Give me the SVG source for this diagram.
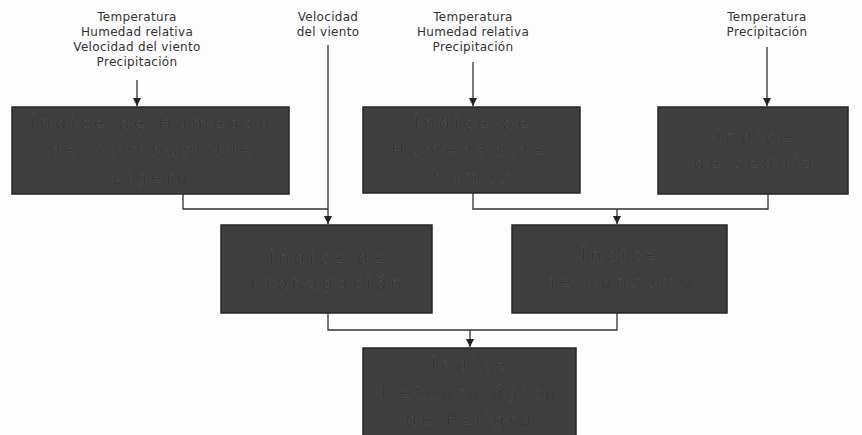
<svg xmlns="http://www.w3.org/2000/svg" width="862" height="435" viewBox="0 0 862 435">
<style>
.lbl{font-family:"DejaVu Sans","Liberation Sans",sans-serif;font-size:12px;letter-spacing:0.3px;fill:#333;text-anchor:middle}
.box{fill:#3f3f3f;stroke:#262626;stroke-width:1.5}
.bt{font-family:"DejaVu Sans","Liberation Sans",sans-serif;font-size:18px;letter-spacing:4px;fill:#2c2c2c;stroke:#505050;stroke-width:0.6;text-anchor:middle}
.ln{fill:none;stroke:#333;stroke-width:1.3}
</style>
<defs>
<marker id="ah" viewBox="0 0 10 10" refX="10" refY="5" markerWidth="8" markerHeight="8" markerUnits="userSpaceOnUse" orient="auto">
<path d="M0,0 L10,5 L0,10 z" fill="#222"/>
</marker>
</defs>
<rect width="862" height="435" fill="#fdfdfd"/>
<g id="labels">
<text class="lbl" x="137" y="21">Temperatura</text>
<text class="lbl" x="137" y="36">Humedad relativa</text>
<text class="lbl" x="137" y="51">Velocidad del viento</text>
<text class="lbl" x="137" y="66">Precipitación</text>
<text class="lbl" x="328" y="21">Velocidad</text>
<text class="lbl" x="328" y="36">del viento</text>
<text class="lbl" x="473" y="21">Temperatura</text>
<text class="lbl" x="473" y="36">Humedad relativa</text>
<text class="lbl" x="473" y="51">Precipitación</text>
<text class="lbl" x="767" y="21">Temperatura</text>
<text class="lbl" x="767" y="36">Precipitación</text>
</g>
<g id="connectors">
<path class="ln" d="M137,80 V106" marker-end="url(#ah)"/>
<path class="ln" d="M328,45 V224" marker-end="url(#ah)"/>
<path class="ln" d="M473,62 V106" marker-end="url(#ah)"/>
<path class="ln" d="M767,47 V106" marker-end="url(#ah)"/>
<path class="ln" d="M183,194 V209 H328"/>
<path class="ln" d="M473,193 V209 H768 V194"/>
<path class="ln" d="M617,209 V224" marker-end="url(#ah)"/>
<path class="ln" d="M328,313 V330 H617 V313"/>
<path class="ln" d="M470,330 V347" marker-end="url(#ah)"/>
</g>
<g id="ffmc">
<rect class="box" x="12" y="107" width="277" height="87"/>
<text class="bt" x="152" y="129">Índice de Humedad</text>
<text class="bt" x="152" y="156">del Combustible</text>
<text class="bt" x="152" y="184">Ligero</text>
</g>
<g id="dmc">
<rect class="box" x="363" y="107" width="217" height="86"/>
<text class="bt" x="473" y="129">Índice de</text>
<text class="bt" x="473" y="156">Humedad del</text>
<text class="bt" x="473" y="183">humus</text>
</g>
<g id="dc">
<rect class="box" x="658" y="107" width="190" height="87"/>
<text class="bt" x="755" y="143">Índice</text>
<text class="bt" x="755" y="169">de sequía</text>
</g>
<g id="isi">
<rect class="box" x="221" y="225" width="211" height="88"/>
<text class="bt" x="328" y="264">Índice de</text>
<text class="bt" x="328" y="289">Propagación</text>
</g>
<g id="bui">
<rect class="box" x="512" y="225" width="215" height="88"/>
<text class="bt" x="620" y="261">Índice</text>
<text class="bt" x="620" y="288">de Consumo</text>
</g>
<g id="fwi">
<rect class="box" x="363" y="348" width="213" height="95"/>
<text class="bt" x="470" y="371">Índice</text>
<text class="bt" x="470" y="399">Meteorológico</text>
<text class="bt" x="470" y="426">de Peligro</text>
</g>
</svg>
